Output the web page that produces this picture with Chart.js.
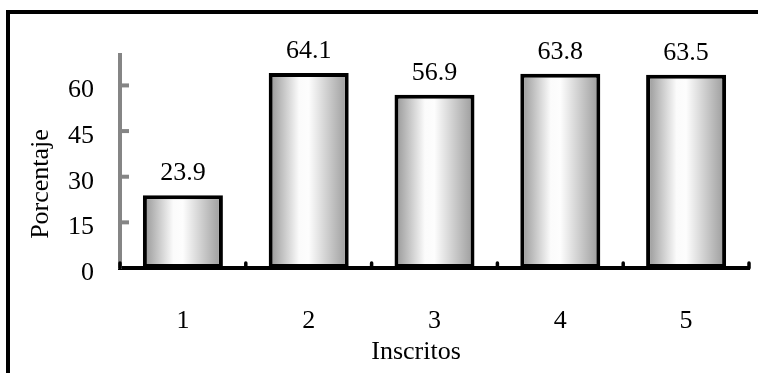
<!DOCTYPE html>
<html>
<head>
<meta charset="utf-8">
<script src="https://cdn.jsdelivr.net/npm/chart.js@4/dist/chart.umd.min.js"></script>
<style>
  html, body { margin: 0; padding: 0; background: #fff; }
  #wrap { width: 758px; height: 373px; }
</style>
</head>
<body>
<div id="wrap"><canvas id="c" width="758" height="373"></canvas></div>
<script>
// Inscritos (grupo) y porcentaje correspondiente
const categories = ['1', '2', '3', '4', '5'];
const porcentajes = [23.9, 64.1, 56.9, 63.8, 63.5];
const yTicks = [0, 15, 30, 45, 60];
const yTitle = 'Porcentaje';
const xTitle = 'Inscritos';

const FONT = "'Liberation Serif', 'Times New Roman', serif";
const FONT_SIZE = 26;
const BAR_PCT = 0.636;

// Horizontal cylinder-like shading for each bar
function barGradient(ctx) {
  const chart = ctx.chart;
  const area = chart.chartArea;
  if (!area || ctx.dataIndex === undefined) return '#cccccc';
  const cx = chart.scales.x.getPixelForValue(ctx.dataIndex);
  const w = (area.right - area.left) / categories.length * BAR_PCT;
  const g = chart.ctx.createLinearGradient(cx - w / 2, 0, cx + w / 2, 0);
  g.addColorStop(0, '#939393');
  g.addColorStop(0.38, '#fbfbfb');
  g.addColorStop(0.5, '#fdfdfd');
  g.addColorStop(1, '#999999');
  return g;
}

// Outer frame, axis titles, inward tick marks and value labels
const decorations = {
  id: 'decorations',
  beforeDraw(chart) {
    const c = chart.ctx;
    c.save();
    c.strokeStyle = '#000';
    c.lineWidth = 4;
    c.strokeRect(8, 12, 900, 900);
    c.restore();
  },
  afterDraw(chart) {
    const c = chart.ctx;
    const area = chart.chartArea;
    const ys = chart.scales.y;
    c.save();
    // y ticks pointing into the plot
    c.strokeStyle = '#858585';
    c.lineWidth = 4;
    yTicks.forEach(v => {
      if (v === 0) return;
      const y = ys.getPixelForValue(v);
      c.beginPath();
      c.moveTo(area.left, y);
      c.lineTo(area.left + 9, y);
      c.stroke();
    });
    // x separators between categories
    c.strokeStyle = '#000';
    c.lineWidth = 3.5;
    c.lineCap = 'round';
    const step = (area.right - area.left) / categories.length;
    for (let i = 0; i <= categories.length; i++) {
      const x = area.left + step * i;
      c.beginPath();
      c.moveTo(x, area.bottom);
      c.lineTo(x, area.bottom - 5);
      c.stroke();
    }
    // axis titles
    c.fillStyle = '#000';
    c.font = FONT_SIZE + 'px ' + FONT;
    c.textAlign = 'center';
    c.textBaseline = 'middle';
    c.fillText(xTitle, 416, 352);
    c.translate(41, 184);
    c.rotate(-Math.PI / 2);
    c.fillText(yTitle, 0, 0);
    c.restore();

    // value labels above bars
    c.save();
    c.fillStyle = '#000';
    c.font = FONT_SIZE + 'px ' + FONT;
    c.textAlign = 'center';
    c.textBaseline = 'bottom';
    const meta = chart.getDatasetMeta(0);
    meta.data.forEach((bar, i) => {
      c.fillText(porcentajes[i].toFixed(1), bar.x, bar.y - 9);
    });
    c.restore();
  }
};

new Chart(document.getElementById('c'), {
  type: 'bar',
  data: {
    labels: categories,
    datasets: [{
      data: porcentajes,
      backgroundColor: barGradient,
      borderColor: '#000',
      borderWidth: 4,
      borderSkipped: false,
      categoryPercentage: 1,
      barPercentage: BAR_PCT
    }]
  },
  options: {
    responsive: false,
    animation: false,
    events: [],
    layout: { padding: { top: 55, right: 9, left: 0, bottom: 0 } },
    plugins: {
      legend: { display: false },
      tooltip: { enabled: false },
      title: { display: false }
    },
    scales: {
      x: {
        grid: { display: false, drawTicks: false },
        border: { display: true, color: '#000', width: 4 },
        ticks: {
          color: '#000',
          font: { family: FONT, size: FONT_SIZE },
          padding: 38,
          maxRotation: 0
        },
        afterFit(scale) { scale.height = 105; }
      },
      y: {
        min: 0,
        max: 70,
        grid: { display: false, drawTicks: false },
        border: { display: true, color: '#858585', width: 4 },
        ticks: {
          color: '#000',
          font: { family: FONT, size: FONT_SIZE },
          padding: 26,
          labelOffset: 5
        },
        afterBuildTicks(scale) { scale.ticks = yTicks.map(v => ({ value: v })); },
        afterFit(scale) { scale.width = 120; }
      }
    }
  },
  plugins: [decorations]
});
</script>
</body>
</html>
